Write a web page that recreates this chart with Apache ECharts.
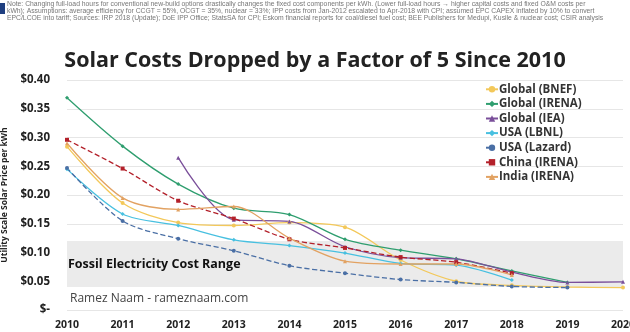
<!DOCTYPE html>
<html><head><meta charset="utf-8">
<script src="https://cdn.jsdelivr.net/npm/echarts@6/dist/echarts.min.js"></script>
<style>html,body{margin:0;padding:0;background:#fff}#c{width:630px;height:332px}</style>
</head><body><div id="c"></div>
<script>
const years = ['2010','2011','2012','2013','2014','2015','2016','2017','2018','2019','2020'];
const globalBNEF  = [0.284, 0.186, 0.152, 0.147, 0.152, 0.144, 0.087, 0.050, 0.043, 0.040, 0.039];
const globalIRENA = [0.369, 0.285, 0.219, 0.177, 0.166, 0.123, 0.104, 0.089, 0.068, 0.048, null];
const globalIEA   = [null, null, 0.265, 0.157, 0.154, 0.110, 0.091, 0.089, 0.066, 0.048, 0.049];
const usaLBNL     = [0.245, 0.167, 0.147, 0.122, 0.112, 0.099, 0.081, 0.078, 0.052, null, null];
const usaLazard   = [0.247, 0.155, 0.124, 0.103, 0.077, 0.064, 0.053, 0.048, 0.041, 0.039, null];
const chinaIRENA  = [0.296, 0.246, 0.190, 0.159, 0.123, 0.108, 0.092, 0.083, 0.064, null, null];
const indiaIRENA  = [0.290, 0.195, 0.175, 0.180, 0.125, 0.085, 0.080, 0.080, 0.061, null, null];
const fossilRange = [0.04, 0.12];
const seriesNames = ['Global (BNEF)','Global (IRENA)','Global (IEA)','USA (LBNL)','USA (Lazard)','China (IRENA)','India (IRENA)'];
const yTicks = [0, 0.05, 0.10, 0.15, 0.20, 0.25, 0.30, 0.35, 0.40];

const chart = echarts.init(document.getElementById('c'));
const colors = ['#f3c85a','#2f9e6f','#7a4f9a','#48c0e0','#4a6fa5','#b3202a','#e2a262'];
const symbols = ['circle','diamond','triangle','diamond','circle','rect','triangle'];
const dashes = ['solid','solid','solid','solid','dashed','dashed','solid'];
const datas = [globalBNEF, globalIRENA, globalIEA, usaLBNL, usaLazard, chinaIRENA, indiaIRENA];
const F = '"Open Sans"';

const series = datas.map((d,i)=>({
  name: seriesNames[i], type:'line', data:d, smooth:0.3, z:3,
  symbol: symbols[i], symbolSize:4, showSymbol:true,
  itemStyle:{color:colors[i]},
  lineStyle:{color:colors[i], width:1.3, type:dashes[i]}
}));
series.unshift({
  type:'line', data:[], silent:true, z:1,
  markArea:{silent:true, itemStyle:{color:'#ebebeb'},
    label:{show:true, position:'insideLeft', distance:0, offset:[1,0], color:'#111', fontWeight:'bold', fontSize:12.5, fontFamily:F, formatter:'Fossil Electricity Cost Range'},
    data:[[{yAxis:fossilRange[0]},{yAxis:fossilRange[1]}]]}
});

const note = 'Note: Changing full-load hours for conventional new-build options drastically changes the fixed cost components per kWh. (Lower full-load hours → higher capital costs and fixed O&M costs per\nkWh); Assumptions: average efficiency for CCGT = 55%, OCGT = 35%, nuclear = 33%; IPP costs from Jan-2012 escalated to Apr-2018 with CPI; assumed EPC CAPEX inflated by 10% to convert\nEPC/LCOE into tariff; Sources: IRP 2018 (Update); DoE IPP Office; StatsSA for CPI; Eskom financial reports for coal/diesel fuel cost; BEE Publishers for Medupi, Kusile & nuclear cost; CSIR analysis';

chart.setOption({
  animation:false,
  color: colors,
  title:{text:'Solar Costs Dropped by a Factor of 5 Since 2010', left:'center', top:45,
    textStyle:{fontFamily:F, fontWeight:'bold', fontSize:21.5, color:'#222'}},
  legend:{orient:'vertical', left:480, top:77, itemWidth:12, itemHeight:8, itemGap:0,
    data: seriesNames,
    textStyle:{fontFamily:F, fontWeight:'bold', fontSize:11.5, lineHeight:14.6, color:'#333', padding:[0,0,0,-4]}},
  grid:{left:67, right:7, top:80, bottom:22, containLabel:false, outerBoundsMode:'none'},
  xAxis:{type:'category', data:years, boundaryGap:false,
    axisLine:{show:false}, axisTick:{show:false},
    axisLabel:{fontFamily:F, fontWeight:'bold', fontSize:10.5, color:'#222', margin:10}},
  yAxis:{type:'value', min:0, max:0.4, interval:0.05,
    name:'Utility Scale Solar Price per kWh', nameLocation:'middle', nameGap:55, nameRotate:90,
    nameTextStyle:{fontFamily:F, fontWeight:'bold', fontSize:8.5, color:'#222'},
    axisLine:{show:false}, axisTick:{show:false},
    splitLine:{lineStyle:{color:'#e6e6e6', width:1}},
    axisLabel:{fontFamily:F, fontWeight:'bold', fontSize:11.5, color:'#222', margin:17,
      formatter:v=> yTicks.indexOf(Math.round(v*100)/100)>=0 ? (v===0 ? '$-' : '$'+v.toFixed(2)) : ''}},
  graphic:[
    {type:'rect', left:0, top:3, shape:{width:5, height:11}, style:{fill:'#1f3f80'}},
    {type:'text', left:7, top:1, style:{text:note, font:'6.8px "Liberation Sans"', fill:'#777', lineHeight:7}},
    {type:'text', left:70, top:293, style:{text:'Ramez Naam - rameznaam.com', font:'12px "Open Sans"', fill:'#444'}}
  ],
  series: series
});
</script></body></html>
